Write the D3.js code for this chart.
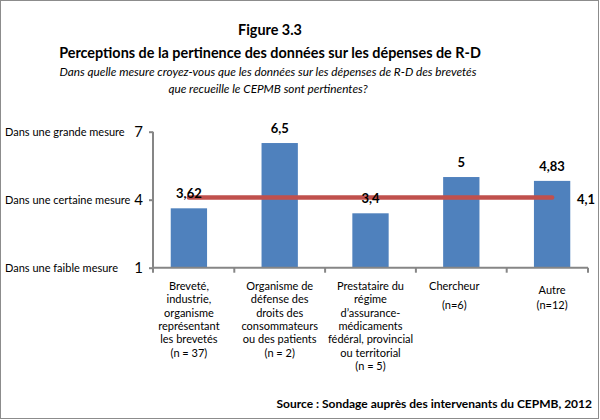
<!DOCTYPE html>
<html><head><meta charset="utf-8">
<script src="https://cdn.jsdelivr.net/npm/d3@7"></script>
<style>body{margin:0;background:#fff}svg{display:block;font-family:Lato,"Open Sans",sans-serif}</style>
</head><body><svg id="c" width="600" height="420"></svg>
<script>
const categories = [
  ["Breveté,","industrie,","organisme","représentant","les brevetés","(n = 37)"],
  ["Organisme de","défense des","droits des","consommateurs","ou des patients","(n = 2)"],
  ["Prestataire du","régime","d’assurance-","médicaments","fédéral, provincial","ou territorial","(n = 5)"],
  ["Chercheur","(n=6)"],
  ["Autre","(n=12)"]
];
const values = [3.62, 6.5, 3.4, 5, 4.83];
const valueLabels = ["3,62", "6,5", "3,4", "5", "4,83"];
const average = 4.1;
const averageLabel = "4,1";
const yTicks = [1, 4, 7];
const yTickNames = ["Dans une faible mesure", "Dans une certaine mesure", "Dans une grande mesure"];
const titleLines = ["Figure 3.3", "Perceptions de la pertinence des données sur les dépenses de R-D"];
const subtitleLines = ["Dans quelle mesure croyez-vous que les données sur les dépenses de R-D des brevetés", "que recueille le CEPMB sont pertinentes?"];
const sourceText = "Source : Sondage auprès des intervenants du CEPMB, 2012";

const svg = d3.select("#c");
svg.append("rect").attr("x",0.5).attr("y",0.5).attr("width",598).attr("height",418)
  .attr("fill","#fff").attr("stroke","#8c8c8c");

const x = d3.scaleBand().domain(d3.range(categories.length)).range([143.5, 597.5]).padding(0);
const y = d3.scaleLinear().domain([1, 7]).range([267.7, 131.7]);
const axisLeft = 153, axisRight = 588;
const axisColor = "#868686";

// titles
svg.append("g").selectAll("text").data(titleLines).join("text")
  .attr("x", 270).attr("y", (d,i)=> 35 + i*23).attr("text-anchor","middle")
  .attr("font-size", 14.4).attr("font-weight","bold").attr("fill","#000").text(d=>d);
svg.append("g").selectAll("text").data(subtitleLines).join("text")
  .attr("x", 268).attr("y", (d,i)=> 76 + i*16.5).attr("text-anchor","middle")
  .attr("font-size", 11.8).attr("font-style","italic").attr("fill","#000").text(d=>d);

// y axis
const gy = svg.append("g").attr("transform",`translate(${axisLeft},0)`)
  .call(d3.axisLeft(y).tickValues(yTicks).tickSize(4).tickPadding(6).tickFormat(d3.format("d")));
gy.select(".domain").attr("stroke", axisColor).attr("stroke-width",2).attr("d", `M0,${y(7)}V${y(1)}`);
gy.selectAll(".tick line").attr("stroke", axisColor).attr("stroke-width",2);
gy.selectAll(".tick text").attr("font-size",15).attr("fill","#000").attr("font-family","Lato,sans-serif");

svg.append("g").selectAll("text").data(yTicks).join("text")
  .attr("x", 5).attr("y", d=> y(d)+4).attr("font-size", 11).attr("fill","#000")
  .text((d,i)=> yTickNames[i]);

// bars
const bw = x.bandwidth()*0.4;
svg.append("g").selectAll("rect").data(values).join("rect")
  .attr("x",(d,i)=> x(i)+x.bandwidth()/2-bw/2).attr("width", bw)
  .attr("y", d=> y(d)).attr("height", d=> y(1)-y(d)).attr("fill","#4F81BD");

// x axis
const boundaries = [axisLeft, ...d3.range(1, categories.length).map(i=> x(i)), axisRight];
svg.append("line").attr("x1",axisLeft).attr("x2",axisRight).attr("y1",y(1)).attr("y2",y(1))
  .attr("stroke",axisColor).attr("stroke-width",2);
svg.append("g").selectAll("line").data(boundaries).join("line")
  .attr("x1",d=>d).attr("x2",d=>d).attr("y1",y(1)).attr("y2",y(1)+5)
  .attr("stroke",axisColor).attr("stroke-width",2);

// average line
const cx = i => x(i)+x.bandwidth()/2;
svg.append("line").attr("x1", cx(0)).attr("x2", cx(categories.length-1))
  .attr("y1", y(average)).attr("y2", y(average))
  .attr("stroke","#C0504D").attr("stroke-width",4.5).attr("stroke-linecap","round");
svg.append("text").attr("x", 577).attr("y", y(average)+7).attr("font-size",13).attr("font-weight","bold")
  .attr("fill","#000").text(averageLabel);

// value labels
svg.append("g").selectAll("text").data(values).join("text")
  .attr("x",(d,i)=> cx(i)).attr("y", d=> y(d)-10).attr("text-anchor","middle")
  .attr("font-size",13).attr("font-weight","bold").attr("fill","#000")
  .text((d,i)=> valueLabels[i]);

// category labels
const lineOffsets = [[0,13.3],[0,13.3],[0,13.3],[0,19],[4,15]];
categories.forEach((lines,i)=>{
  const [start, step] = lineOffsets[i];
  svg.append("g").selectAll("text").data(lines).join("text")
    .attr("x", cx(i) + (i===3 ? -7 : 0)).attr("y",(d,j)=> 290 + start + j*step)
    .attr("text-anchor","middle").attr("font-size",11).attr("fill","#000").text(d=>d);
});

// source
svg.append("text").attr("x", 592).attr("y", 408).attr("text-anchor","end")
  .attr("font-size",12).attr("font-weight","bold").attr("fill","#000").text(sourceText);
</script></body></html>
